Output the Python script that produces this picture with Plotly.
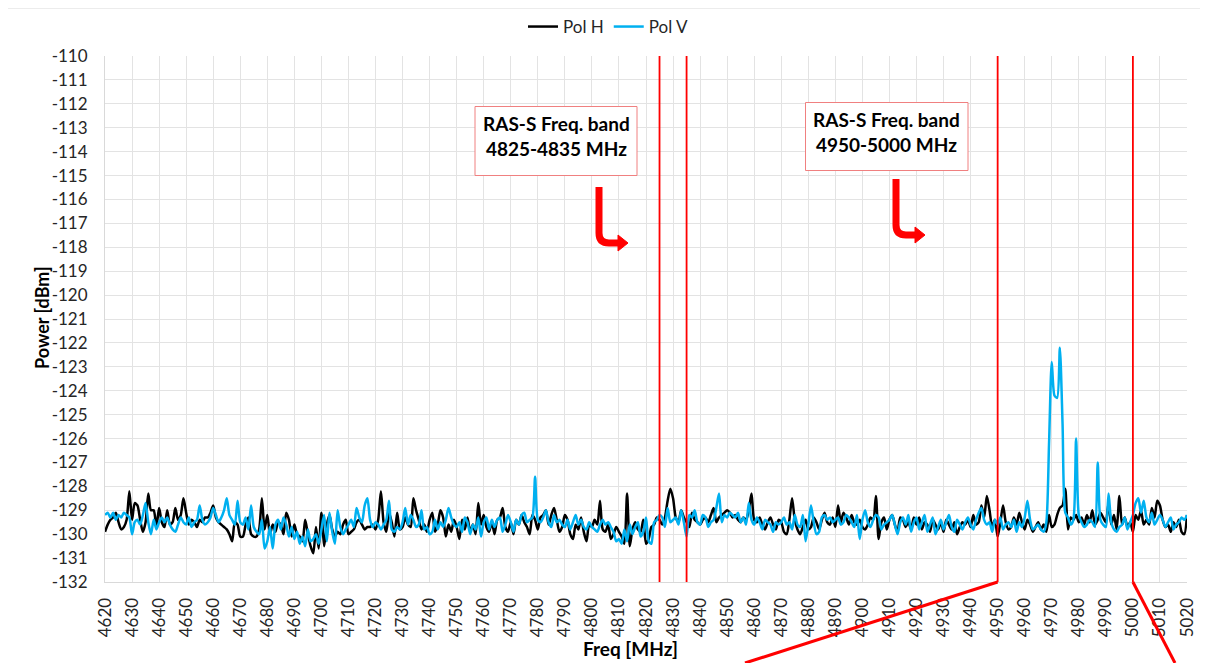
import plotly.graph_objects as go

# ---------------- data ----------------
freq_start = 4620
freq_stop = 5020

pol_h = [
    -129.9, -129.6, -129.4, -129.3, -129.1, -129.5, -129.8, -129.7, -129.4, -128.2,
    -129.4, -128.7, -128.8, -129.4, -129.9, -129.5, -128.3, -129.0, -129.0, -129.7,
    -128.9, -129.5, -129.7, -129.0, -129.6, -129.5, -128.9, -129.4, -129.2, -128.5,
    -129.1, -129.6, -129.4, -129.5, -129.7, -129.4, -129.5, -129.3, -129.3, -129.1,
    -128.8, -129.3, -129.5, -129.6, -129.7, -129.8, -130.0, -130.3, -129.5, -129.6,
    -130.1, -130.1, -129.6, -129.3, -130.0, -130.1, -130.1, -129.8, -128.5, -129.8,
    -129.2, -130.0, -129.6, -129.9, -129.5, -129.6, -130.0, -129.1, -129.4, -130.1,
    -129.6, -130.0, -130.1, -130.3, -129.4, -130.0, -130.5, -130.8, -129.7, -130.6,
    -129.1, -130.5, -129.6, -129.2, -129.8, -130.1, -129.9, -130.0, -129.6, -129.4,
    -130.0, -129.9, -129.8, -129.5, -129.4, -129.6, -129.8, -129.7, -129.7, -129.6,
    -129.8, -129.4, -128.2, -129.5, -129.9, -129.1, -129.5, -130.1, -129.1, -129.8,
    -129.7, -129.3, -129.6, -129.7, -128.5, -129.0, -129.4, -129.8, -129.6, -129.9,
    -129.4, -129.1, -129.9, -129.6, -129.0, -129.3, -130.1, -129.6, -129.9, -129.4,
    -129.7, -130.2, -129.4, -129.8, -129.3, -129.9, -129.6, -130.0, -128.7, -129.6,
    -129.2, -129.7, -129.9, -129.5, -130.0, -129.4, -129.3, -128.9, -129.7, -129.9,
    -129.5, -130.0, -129.4, -129.6, -129.2, -129.5, -129.7, -130.0, -129.2, -129.4,
    -129.8, -129.3, -129.2, -129.0, -129.6, -129.2, -128.9, -129.4, -129.9, -129.7,
    -129.2, -129.4, -130.0, -130.2, -129.6, -129.8, -129.3, -129.9, -130.3, -129.6,
    -129.7, -129.4, -129.6, -128.6, -129.8, -129.9, -129.6, -130.2, -130.0, -129.7,
    -129.9, -130.1, -130.4, -128.3, -130.5, -129.8, -129.5, -129.8, -129.9, -129.4,
    -130.4, -130.2, -129.7, -129.6, -129.3, -129.4, -129.6, -129.3, -128.6, -128.1,
    -128.5, -129.3, -129.5, -129.0, -129.3, -129.5, -129.7, -129.1, -129.4, -129.5,
    -129.6, -129.4, -129.3, -129.5, -129.2, -128.9, -129.5, -129.3, -129.2, -129.1,
    -129.0, -129.1, -129.3, -129.2, -129.4, -129.5, -129.3, -129.4, -129.0, -128.3,
    -129.4, -129.5, -129.3, -129.6, -129.8, -129.5, -129.3, -129.6, -129.8, -129.4,
    -129.5, -129.9, -130.0, -129.4, -128.5, -129.4, -129.8, -130.0, -129.7, -129.4,
    -129.8, -129.7, -129.3, -129.5, -129.8, -129.4, -129.1, -129.5, -129.6, -129.3,
    -129.7, -128.8, -129.5, -129.1, -129.3, -129.6, -129.2, -129.5, -129.6, -129.4,
    -129.7, -129.8, -129.6, -129.3, -129.4, -128.4, -130.2, -129.5, -129.3, -129.8,
    -129.4, -129.2, -129.6, -129.9, -129.3, -129.4, -129.7, -129.5, -129.8, -129.3,
    -129.6, -129.3, -129.8, -129.5, -129.6, -129.9, -129.4, -129.6, -129.8, -129.5,
    -129.9, -129.4, -129.6, -129.8, -129.5, -130.0, -129.7, -129.5, -129.6, -129.4,
    -129.7, -129.2, -129.6, -129.5, -128.8, -129.3, -128.4, -129.0, -129.7, -129.4,
    -130.1, -129.5, -128.8, -129.5, -129.8, -129.7, -129.3, -129.6, -129.1, -129.5,
    -129.8, -129.4, -129.6, -129.9, -129.7, -129.5, -129.8, -129.6, -129.9, -129.2,
    -129.7, -129.6, -129.2, -128.9, -128.8, -128.1, -129.8, -129.3, -129.4, -129.2,
    -129.5, -129.3, -129.6, -129.2, -129.5, -129.0, -129.6, -129.4, -129.1, -129.3,
    -129.5, -128.7, -129.6, -129.2, -129.8, -128.4, -129.6, -129.3, -129.7, -129.5,
    -129.9, -129.2, -129.4, -129.0, -129.6, -129.4, -129.6, -128.9, -129.3, -128.6,
    -128.8, -129.4, -129.7, -129.6, -129.9, -129.5, -129.7, -129.4, -129.9, -130.0,
    -129.2,
]

pol_v = [
    -129.2, -129.1, -129.3, -129.1, -129.4, -129.2, -129.3, -129.1, -129.2, -129.3,
    -130.0, -129.5, -129.4, -129.6, -129.2, -128.7, -129.5, -130.0, -129.4, -129.8,
    -129.5, -129.3, -129.5, -129.3, -129.6, -129.8, -129.9, -129.6, -129.3, -129.5,
    -129.6, -129.3, -129.7, -129.5, -129.4, -128.8, -129.4, -129.6, -129.5, -129.3,
    -128.9, -129.2, -129.5, -129.3, -129.0, -128.5, -129.2, -129.4, -129.6, -128.6,
    -129.5, -129.6, -129.3, -129.8, -128.8, -129.7, -129.9, -130.0, -129.4, -130.6,
    -130.3, -129.7, -130.6, -129.6, -129.4, -129.8, -129.3, -129.6, -130.1, -129.7,
    -130.2, -129.9, -130.4, -130.1, -130.5, -129.8, -130.3, -130.2, -130.0, -130.4,
    -129.8, -129.2, -130.3, -129.1, -129.9, -130.4, -129.0, -129.7, -130.0, -129.8,
    -129.6, -129.4, -129.7, -128.9, -129.3, -129.5, -128.8, -128.5, -129.4, -129.7,
    -129.5, -129.6, -129.8, -129.6, -129.4, -128.6, -129.8, -129.9, -129.7, -129.8,
    -129.5, -128.9, -129.6, -129.2, -129.4, -129.7, -129.6, -129.0, -129.8, -129.7,
    -130.0, -129.9, -129.4, -129.8, -129.5, -129.7, -129.4, -128.9, -129.3, -129.6,
    -129.7, -129.5, -129.9, -129.3, -129.5, -130.0, -129.6, -129.8, -129.3, -130.1,
    -129.5, -129.3, -129.8, -129.4, -129.7, -129.4, -129.3, -129.9, -129.6, -129.2,
    -129.5, -129.9, -129.4, -129.6, -129.2, -129.1, -129.5, -129.4, -129.3, -127.6,
    -129.4, -129.5, -129.3, -129.0, -129.5, -129.7, -129.2, -129.5, -129.4, -129.6,
    -129.7, -129.4, -129.8, -129.5, -129.2, -129.6, -129.4, -129.7, -129.8, -129.5,
    -129.7, -129.8, -129.9, -129.6, -129.4, -129.6, -129.5, -129.7, -129.9, -130.3,
    -130.2, -130.4, -129.8, -130.3, -129.6, -130.0, -129.7, -129.5, -130.1, -129.9,
    -129.3, -130.3, -130.4, -129.5, -129.4, -129.2, -129.3, -129.7, -128.9, -129.5,
    -129.4, -129.3, -129.6, -129.0, -129.5, -130.1, -129.2, -129.3, -129.0, -129.5,
    -129.6, -129.2, -129.3, -129.7, -129.5, -129.4, -128.9, -128.3, -129.5, -129.2,
    -129.3, -129.1, -129.2, -129.3, -129.1, -129.5, -129.3, -129.6, -128.7, -129.4,
    -129.6, -129.3, -129.5, -129.8, -129.4, -129.5, -129.6, -129.9, -129.5, -129.6,
    -129.5, -129.3, -129.6, -129.5, -129.8, -129.2, -129.6, -129.7, -129.2, -130.3,
    -129.6, -128.8, -129.5, -130.0, -129.9, -129.3, -129.2, -129.4, -129.3, -129.5,
    -129.4, -129.3, -129.6, -129.5, -129.2, -129.3, -129.5, -129.7, -129.2, -130.2,
    -129.4, -129.0, -129.5, -129.7, -129.4, -129.2, -129.3, -129.8, -129.6, -129.5,
    -129.4, -129.2, -129.6, -130.0, -129.5, -129.3, -129.6, -129.2, -129.9, -129.5,
    -129.3, -129.8, -129.5, -129.2, -129.9, -129.6, -129.3, -130.0, -129.7, -129.4,
    -129.8, -129.5, -129.2, -129.7, -129.9, -129.4, -129.6, -129.8, -129.5, -129.3,
    -129.6, -129.8, -129.4, -129.1, -128.9, -129.4, -129.6, -129.5, -129.9, -129.4,
    -129.6, -129.3, -129.8, -129.6, -129.5, -129.7, -129.4, -129.9, -129.5, -129.7,
    -129.3, -128.6, -129.4, -129.8, -129.7, -129.6, -129.8, -129.9, -129.5, -126.2,
    -122.8, -124.2, -124.3, -122.2, -125.4, -129.1, -129.3, -129.6, -129.4, -126.0,
    -129.2, -129.5, -129.7, -129.6, -129.4, -129.5, -129.7, -127.0, -129.4, -129.6,
    -129.7, -128.3, -129.5, -129.8, -129.9, -129.7, -129.6, -129.3, -129.8, -129.5,
    -129.2, -128.7, -128.5, -129.1, -128.6, -129.3, -129.5, -129.1, -129.6, -129.4,
    -129.2, -129.4, -129.7, -129.5, -129.3, -129.8, -129.6, -129.5, -129.3, -129.4,
    -129.2,
]

freqs = list(range(freq_start, freq_stop + 1))

x_tick_vals = list(range(4620, 5021, 10))
x_tick_text = [str(v) for v in x_tick_vals]
y_tick_vals = list(range(-132, -109))
y_tick_text = [str(v) for v in y_tick_vals]

band_edges = [4825, 4835, 4950, 5000]
band_labels = ["RAS-S Freq. band<br>4825-4835 MHz", "RAS-S Freq. band<br>4950-5000 MHz"]

# ---------------- layout helpers (page pixel -> axis / paper) ----------------
OFF = 8  # default page body margin around the figure
PAGE_W, PAGE_H = 1208, 663
W, H = PAGE_W - OFF, PAGE_H - OFF
PL, PR, PT, PB = 105, 1187, 56, 582  # plot area in page pixels
X0, X1 = 4620, 5020
Y0, Y1 = -132, -110


def xd(px):
    return X0 + (px - PL) / (PR - PL) * (X1 - X0)


def yd(py):
    return Y1 - (py - PT) / (PB - PT) * (Y1 - Y0)


def xp(px):
    return (px - PL) / (PR - PL)


def yp(py):
    return (PB - py) / (PB - PT)


FONT = "Lato, 'Open Sans', sans-serif"
RED = "#ff0000"
TXT = "#262626"

fig = go.Figure()
fig.add_trace(go.Scatter(x=freqs, y=pol_h, name="Pol H", mode="lines",
                         line=dict(color="#000000", width=2.5, shape="spline", smoothing=0.7)))
fig.add_trace(go.Scatter(x=freqs, y=pol_v, name="Pol V", mode="lines",
                         line=dict(color="#00b0f0", width=2.5, shape="spline", smoothing=0.7)))

shapes = []
# chart border
shapes.append(dict(type="rect", xref="paper", yref="paper",
                   x0=xp(6), x1=xp(1204), y0=yp(700), y1=yp(8),
                   line=dict(color="#d9d9d9", width=1), fillcolor="rgba(0,0,0,0)", layer="below"))
# band edge vertical lines
for e in band_edges:
    shapes.append(dict(type="line", xref="x", yref="paper", x0=e, x1=e, y0=0, y1=1,
                       line=dict(color=RED, width=1.8)))
# zoom-out lines from the 4950-5000 band
shapes.append(dict(type="line", xref="paper", yref="paper",
                   x0=(band_edges[2] - X0) / (X1 - X0), y0=0, x1=xp(745), y1=yp(663),
                   line=dict(color=RED, width=3)))
shapes.append(dict(type="line", xref="paper", yref="paper",
                   x0=(band_edges[3] - X0) / (X1 - X0), y0=0, x1=xp(1175), y1=yp(663),
                   line=dict(color=RED, width=3)))

# annotation boxes
boxes = [(475, 637, 106.5, 175.5), (805.5, 968, 102.5, 170.5)]
for (bx0, bx1, by0, by1) in boxes:
    shapes.append(dict(type="rect", xref="x", yref="y",
                       x0=xd(bx0), x1=xd(bx1), y0=yd(by1), y1=yd(by0),
                       line=dict(color="#f08080", width=1), fillcolor="white"))

# bent arrows (stem x, top y, bend y, tip x)
arrows = [(599, 187, 243, 628), (896, 179, 235, 925)]
for (sx, sy, by, tx) in arrows:
    r = 10
    path = (f"M {xd(sx)},{yd(sy)} L {xd(sx)},{yd(by - r)} "
            f"Q {xd(sx)},{yd(by)} {xd(sx + r)},{yd(by)} L {xd(tx - 9)},{yd(by)}")
    shapes.append(dict(type="path", xref="x", yref="y", path=path,
                       line=dict(color=RED, width=7)))
    head = (f"M {xd(tx - 10)},{yd(by - 8)} L {xd(tx)},{yd(by)} "
            f"L {xd(tx - 10)},{yd(by + 8)} Z")
    shapes.append(dict(type="path", xref="x", yref="y", path=head,
                       fillcolor=RED, line=dict(color=RED, width=1)))

annotations = []
for (bx0, bx1, by0, by1), txt in zip(boxes, band_labels):
    annotations.append(dict(x=xd((bx0 + bx1) / 2), y=yd(by0 + 3), xref="x", yref="y",
                            text=f"<b>{txt}</b>", showarrow=False, xanchor="center",
                            yanchor="top", align="center",
                            font=dict(family=FONT, size=19, color="#000000")))
# axis titles
annotations.append(dict(x=xp(630), y=yp(648), xref="paper", yref="paper",
                        text="<b>Freq [MHz]</b>", showarrow=False,
                        xanchor="center", yanchor="middle",
                        font=dict(family=FONT, size=19, color="#000000")))
annotations.append(dict(x=xp(42), y=yp(318), xref="paper", yref="paper",
                        text="<b>Power [dBm]</b>", showarrow=False, textangle=-90,
                        xanchor="center", yanchor="middle",
                        font=dict(family=FONT, size=18, color="#000000")))

fig.update_layout(
    width=W, height=H,
    margin=dict(l=PL - OFF, r=PAGE_W - PR, t=PT - OFF, b=PAGE_H - PB, autoexpand=False),
    paper_bgcolor="white", plot_bgcolor="white",
    font=dict(family=FONT, size=16, color=TXT),
    showlegend=True,
    legend=dict(orientation="h", x=xp(608), xanchor="center", y=yp(27), yanchor="middle",
                font=dict(family=FONT, size=17, color=TXT), itemwidth=30,
                bgcolor="rgba(0,0,0,0)"),
    shapes=shapes,
    annotations=annotations,
)
fig.update_xaxes(range=[X0, X1], tickmode="array", tickvals=x_tick_vals, ticktext=x_tick_text,
                 tickangle=-90, showgrid=True, gridcolor="#e3e3e3", gridwidth=1,
                 showline=True, linecolor="#d9d9d9", linewidth=1, zeroline=False,
                 ticks="outside", ticklen=8, tickcolor="rgba(0,0,0,0)",
                 tickfont=dict(family=FONT, size=17, color=TXT), automargin=False)
fig.update_yaxes(range=[Y0, Y1], tickmode="array", tickvals=y_tick_vals, ticktext=y_tick_text,
                 showgrid=True, gridcolor="#e3e3e3", gridwidth=1,
                 showline=True, linecolor="#d9d9d9", linewidth=1, zeroline=False,
                 ticks="outside", ticklen=13, tickcolor="rgba(0,0,0,0)",
                 tickfont=dict(family=FONT, size=17, color=TXT), automargin=False)

fig.write_html("out.html")
